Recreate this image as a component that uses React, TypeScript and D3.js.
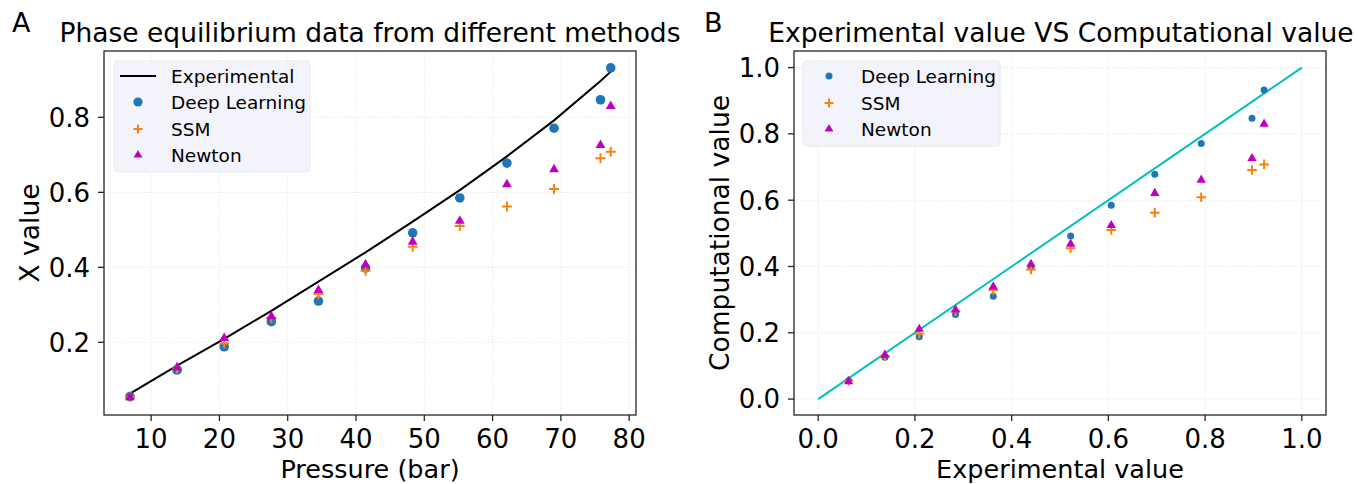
import * as d3 from 'd3';

// pressures in bar (100 psi steps plus one extra point)
const pressures = [6.9, 13.8, 20.7, 27.6, 34.5, 41.4, 48.3, 55.2, 62.1, 69.0, 75.8, 77.3];
const experimental = [0.063, 0.138, 0.209, 0.284, 0.362, 0.44, 0.522, 0.606, 0.696, 0.792, 0.897, 0.922];
const deepLearning = [0.055, 0.126, 0.188, 0.255, 0.31, 0.398, 0.492, 0.585, 0.678, 0.771, 0.847, 0.932];
const ssm = [0.055, 0.13, 0.197, 0.265, 0.329, 0.391, 0.455, 0.51, 0.562, 0.609, 0.691, 0.708];
const newton = [0.053, 0.133, 0.211, 0.269, 0.339, 0.407, 0.468, 0.524, 0.621, 0.661, 0.726, 0.83];

const pressureTicks = [10, 20, 30, 40, 50, 60, 70, 80];
const xValueTicks = [0.2, 0.4, 0.6, 0.8];
const unitTicks = [0, 0.2, 0.4, 0.6, 0.8, 1.0];

const C_DL = '#1f77b4';
const C_SSM = '#ff7f0e';
const C_NEWTON = '#bf00bf';
const C_IDENT = '#00bfbf';
const FONT = 'DejaVu Sans';
const TICK_FS = 26;
const LABEL_FS = 25.5;
const LEGEND_FS = 18.5;

const top = 51;
const bottom = 415;

function plusPath(h: number) {
  return `M${-h},0H${h}M0,${-h}V${h}`;
}

const triangle = d3.symbol().type(d3.symbolTriangle);

interface Marks {
  x: (v: number) => number;
  y: (v: number) => number;
  xs: number[];
  r: number;
  tri: number;
  plus: number;
}

function Points({ x, y, xs, r, tri, plus }: Marks) {
  return (
    <g>
      {deepLearning.map((v, i) => (
        <circle key={'d' + i} cx={x(xs[i])} cy={y(v)} r={r} fill={C_DL} />
      ))}
      {ssm.map((v, i) => (
        <path
          key={'s' + i}
          transform={`translate(${x(xs[i])},${y(v)})`}
          d={plusPath(plus)}
          stroke={C_SSM}
          strokeWidth={2}
          fill="none"
        />
      ))}
      {newton.map((v, i) => (
        <path
          key={'n' + i}
          transform={`translate(${x(xs[i])},${y(v)})`}
          d={triangle.size(tri)() ?? ''}
          fill={C_NEWTON}
        />
      ))}
    </g>
  );
}

function Frame({ left, right, x, y, xt, yt, xfmt, yfmt }: {
  left: number;
  right: number;
  x: d3.ScaleLinear<number, number>;
  y: d3.ScaleLinear<number, number>;
  xt: number[];
  yt: number[];
  xfmt: (v: number) => string;
  yfmt: (v: number) => string;
}) {
  return (
    <g>
      {xt.map((t) => (
        <g key={'x' + t}>
          <line x1={x(t)} x2={x(t)} y1={top} y2={bottom} stroke="#dedede" strokeWidth={0.8} strokeDasharray="1.2,1.8" />
          <line x1={x(t)} x2={x(t)} y1={bottom} y2={bottom + 6} stroke="#262626" strokeWidth={1.3} />
          <text x={x(t)} y={448} textAnchor="middle" fontSize={TICK_FS}>{xfmt(t)}</text>
        </g>
      ))}
      {yt.map((t) => (
        <g key={'y' + t}>
          <line x1={left} x2={right} y1={y(t)} y2={y(t)} stroke="#dedede" strokeWidth={0.8} strokeDasharray="1.2,1.8" />
          <line x1={left - 6} x2={left} y1={y(t)} y2={y(t)} stroke="#262626" strokeWidth={1.3} />
          <text x={left - 14} y={y(t) + 9.4} textAnchor="end" fontSize={TICK_FS}>{yfmt(t)}</text>
        </g>
      ))}
    </g>
  );
}

function Legend({ x0, y0, w, h, hx, tx, rows, withLine }: {
  x0: number; y0: number; w: number; h: number; hx: number; tx: number;
  rows: { label: string; kind: string; cy: number }[];
  withLine: boolean;
}) {
  return (
    <g>
      <rect x={x0} y={y0} width={w} height={h} rx={4} fill="#f3f4fb" stroke="#e6e8f4" strokeWidth={1} />
      {rows.map((r) => (
        <g key={r.label}>
          {r.kind === 'line' && withLine && (
            <line x1={hx - 18} x2={hx + 18} y1={r.cy} y2={r.cy} stroke="#000" strokeWidth={2} />
          )}
          {r.kind === 'dl' && <circle cx={hx} cy={r.cy} r={withLine ? 4.6 : 3.5} fill={C_DL} />}
          {r.kind === 'ssm' && (
            <path transform={`translate(${hx},${r.cy})`} d={plusPath(4.5)} stroke={C_SSM} strokeWidth={2} fill="none" />
          )}
          {r.kind === 'newton' && (
            <path transform={`translate(${hx},${r.cy})`} d={triangle.size(34)() ?? ''} fill={C_NEWTON} />
          )}
          <text x={tx} y={r.cy + 6.8} fontSize={LEGEND_FS}>{r.label}</text>
        </g>
      ))}
    </g>
  );
}

export default function App() {
  // Panel A
  const ax = d3.scaleLinear().domain([3.1, 81.0]).range([104, 636]);
  const ay = d3.scaleLinear().domain([0.006, 0.977]).range([bottom, top]);
  const expLine = d3
    .line<number>()
    .x((_d, i) => ax(pressures[i]))
    .y((d) => ay(d));

  // Panel B
  const bx = d3.scaleLinear().domain([-0.05, 1.05]).range([794, 1326]);
  const by = d3.scaleLinear().domain([-0.048, 1.05]).range([bottom, top]);
  const ident = d3
    .line<number>()
    .x((d) => bx(d))
    .y((d) => by(d));

  const f1 = d3.format('.1f');

  return (
    <svg
      width={1358}
      height={484}
      style={{ position: 'absolute', left: 0, top: 0, background: '#fff' }}
      fontFamily={FONT}
      fill="#000"
    >
      {/* ---------- A ---------- */}
      <text x={12} y={32} fontSize={27}>A</text>
      <text x={370} y={42} textAnchor="middle" fontSize={26.5}>Phase equilibrium data from different methods</text>
      <Frame left={104} right={636} x={ax} y={ay} xt={pressureTicks} yt={xValueTicks} xfmt={(v) => String(v)} yfmt={f1} />
      <path d={expLine(experimental) ?? ''} fill="none" stroke="#000" strokeWidth={2} />
      <Points x={ax} y={ay} xs={pressures} r={4.8} tri={42} plus={5} />
      <rect x={104} y={top} width={532} height={bottom - top} fill="none" stroke="#262626" strokeWidth={1.3} />
      <Legend
        x0={114} y0={61} w={196} h={111} hx={138} tx={171} withLine
        rows={[
          { label: 'Experimental', kind: 'line', cy: 76 },
          { label: 'Deep Learning', kind: 'dl', cy: 102 },
          { label: 'SSM', kind: 'ssm', cy: 129 },
          { label: 'Newton', kind: 'newton', cy: 155 },
        ]}
      />
      <text x={370} y={478} textAnchor="middle" fontSize={LABEL_FS}>Pressure (bar)</text>
      <text transform={`translate(39,${(top + bottom) / 2}) rotate(-90)`} textAnchor="middle" fontSize={26.5}>X value</text>

      {/* ---------- B ---------- */}
      <text x={704} y={32} fontSize={27}>B</text>
      <text x={1061} y={42} textAnchor="middle" fontSize={26.5}>Experimental value VS Computational value</text>
      <Frame left={794} right={1326} x={bx} y={by} xt={unitTicks} yt={unitTicks} xfmt={f1} yfmt={f1} />
      <path d={ident([0, 1]) ?? ''} fill="none" stroke={C_IDENT} strokeWidth={2} />
      <Points x={bx} y={by} xs={experimental} r={3.5} tri={38} plus={4.8} />
      <rect x={794} y={top} width={532} height={bottom - top} fill="none" stroke="#262626" strokeWidth={1.3} />
      <Legend
        x0={803} y0={61} w={197} h={85} hx={829} tx={861} withLine={false}
        rows={[
          { label: 'Deep Learning', kind: 'dl', cy: 76 },
          { label: 'SSM', kind: 'ssm', cy: 103 },
          { label: 'Newton', kind: 'newton', cy: 129 },
        ]}
      />
      <text x={1060} y={478} textAnchor="middle" fontSize={LABEL_FS}>Experimental value</text>
      <text transform={`translate(729,${(top + bottom) / 2}) rotate(-90)`} textAnchor="middle" fontSize={26.5}>Computational value</text>
    </svg>
  );
}
